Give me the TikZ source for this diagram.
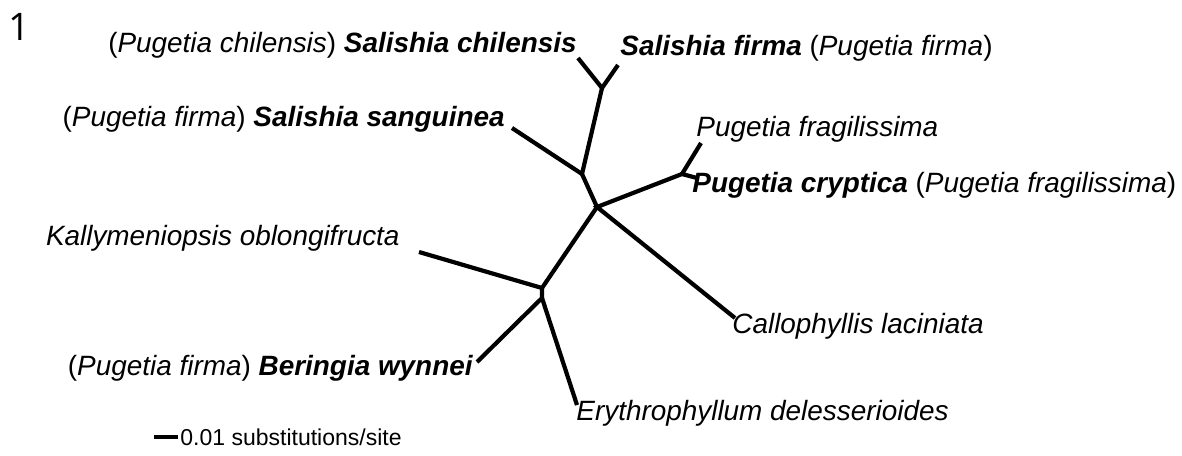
\documentclass[tikz,border=0pt]{standalone}
\usepackage{fontspec}
\setmainfont{Liberation Sans}
\newfontfamily\panelfont{Open Sans}
\usetikzlibrary{positioning}
\newcommand{\syn}[1]{\textup{(}#1\textup{)}}

\begin{document}
\begin{tikzpicture}[x=0.5pt,y=-0.5pt,
  branch/.style={line width=2.1pt,line join=miter},
  taxon/.style={font=\fontsize{13.95}{16}\selectfont\itshape,inner sep=0pt},
  scalelab/.style={font=\fontsize{11.5}{14}\selectfont,inner sep=0pt}]
\useasboundingbox (0,0) rectangle (1182,455);
% internal nodes of the tree
\coordinate (salA) at (602,88);
\coordinate (salB) at (582,174);
\coordinate (mid) at (597,207);
\coordinate (pug) at (682,174);
\coordinate (outA) at (542,288);
\coordinate (outB) at (542,298);
% tips
\coordinate (tChil) at (578,58);
\coordinate (tFirm) at (618,65);
\coordinate (tSang) at (512,128);
\coordinate (tFrag) at (701,143);
\coordinate (tCryp) at (697,178);
\coordinate (tCall) at (735,318);
\coordinate (tKall) at (419,252);
\coordinate (tBer) at (477,362);
\coordinate (tEry) at (577,405);

\draw[branch] (tChil) -- (salA) -- (tFirm);
\draw[branch] (salA) -- (salB) -- (mid);
\draw[branch] (tSang) -- (salB);
\draw[branch] (tFrag) -- (pug) -- (tCryp);
\draw[branch] (pug) -- (mid) -- (tCall);
\draw[branch] (mid) -- (outA) -- (tKall);
\draw[branch] (outA) -- (outB) -- (tBer);
\draw[branch] (outB) -- (tEry);

% taxon labels
\node[taxon,anchor=base east] (lChil) at (577,52) {\syn{Pugetia chilensis} \textbf{Salishia chilensis}};
\node[taxon,anchor=base west] (lFirm) at (620,55) {\textbf{Salishia firma} \syn{Pugetia firma}};
\node[taxon,anchor=base east] (lSang) at (505,126) {\syn{Pugetia firma} \textbf{Salishia sanguinea}};
\node[taxon,anchor=base west] (lFrag) at (696,136) {Pugetia fragilissima};
\node[taxon,anchor=base west] (lCryp) at (692,192) {\textbf{Pugetia cryptica} \syn{Pugetia fragilissima}};
\node[taxon,anchor=base east] (lKall) at (400,245) {Kallymeniopsis oblongifructa};
\node[taxon,anchor=base west] (lCall) at (732,333) {Callophyllis laciniata};
\node[taxon,anchor=base east] (lBer) at (473,375) {\syn{Pugetia firma} \textbf{Beringia wynnei}};
\node[taxon,anchor=base west] (lEry) at (576,420) {Erythrophyllum delesserioides};

% panel number and scale bar
\node[anchor=base west,inner sep=0pt,font=\panelfont\fontsize{19}{22}\selectfont] (panel) at (8,40) {1};
\coordinate (sbL) at (154,437);
\coordinate (sbR) at (178,437);
\draw[branch] (sbL) -- (sbR);
\node[scalelab,anchor=west] (sbLab) at ([xshift=1pt]sbR) {0.01 substitutions/site};
\end{tikzpicture}
\end{document}
